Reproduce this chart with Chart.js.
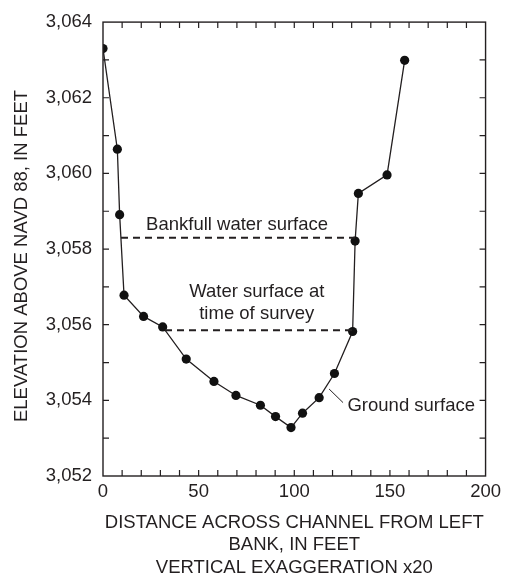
<!DOCTYPE html>
<html>
<head>
<meta charset="utf-8">
<script src="https://cdn.jsdelivr.net/npm/chart.js@4.4.1/dist/chart.umd.min.js"></script>
<style>
  html, body { margin: 0; padding: 0; background: #fff; }
</style>
</head>
<body>
<canvas id="section" width="506" height="581"></canvas>
<script>
// Channel cross section, surveyed ground points
const distance = [0, 7.5, 8.7, 11.0, 21.2, 31.2, 43.5, 58.0, 69.5, 82.3, 90.2, 98.3,
                  104.3, 113.0, 121.0, 130.5, 131.8, 133.5, 148.5, 157.7];
const elevation = [3063.30, 3060.64, 3058.91, 3056.78, 3056.22, 3055.94, 3055.09, 3054.50,
                   3054.13, 3053.87, 3053.57, 3053.28, 3053.66, 3054.07, 3054.71, 3055.82,
                   3058.21, 3059.47, 3059.96, 3062.99];

// Water surfaces (edge distances, elevation)
const bankfullX = [9.4, 131.8];
const bankfullElev = 3058.30;
const surveyX = [32.4, 130.5];
const surveyElev = 3055.85;

const xTicks = [0, 50, 100, 150, 200];
const yTicks = [3052, 3054, 3056, 3058, 3060, 3062, 3064];

const xTitle = ['DISTANCE ACROSS CHANNEL FROM LEFT', 'BANK, IN FEET', 'VERTICAL EXAGGERATION x20'];
const yTitle = 'ELEVATION ABOVE NAVD 88, IN FEET';
const bankfullLabel = 'Bankfull water surface';
const surveyLabel = ['Water surface at', 'time of survey'];
const groundLabel = 'Ground surface';

const INK = '#231f20';
const FONT = '"Liberation Sans", Arial, Helvetica, sans-serif';
const SIZE = 18.5;

// frame, inward ticks, rotated y title and callouts
const decorations = {
    id: 'decorations',
    afterDraw(chart) {
        const { ctx, chartArea: a, scales: { x, y } } = chart;
        ctx.save();
        ctx.strokeStyle = INK;
        ctx.lineWidth = 1.4;
        ctx.strokeRect(a.left, a.top, a.right - a.left, a.bottom - a.top);

        ctx.lineWidth = 1.2;
        ctx.beginPath();
        for (let v = x.min + 10; v < x.max; v += 10) {
            const px = x.getPixelForValue(v);
            ctx.moveTo(px, a.bottom); ctx.lineTo(px, a.bottom - 6);
            ctx.moveTo(px, a.top); ctx.lineTo(px, a.top + 6);
        }
        for (let v = y.min + 1; v < y.max; v += 1) {
            const py = y.getPixelForValue(v);
            ctx.moveTo(a.left, py); ctx.lineTo(a.left + 6, py);
            ctx.moveTo(a.right, py); ctx.lineTo(a.right - 6, py);
        }
        ctx.stroke();

        ctx.fillStyle = INK;
        ctx.font = SIZE + 'px ' + FONT;
        ctx.textBaseline = 'middle';

        // y axis title
        ctx.save();
        ctx.translate(21.5, 256);
        ctx.rotate(-Math.PI / 2);
        ctx.textAlign = 'center';
        ctx.fillText(yTitle, 0, 0);
        ctx.restore();

        ctx.textAlign = 'center';
        ctx.fillText(bankfullLabel, x.getPixelForValue(70.1), y.getPixelForValue(3058.65));
        ctx.fillText(surveyLabel[0], x.getPixelForValue(80.4), y.getPixelForValue(3056.88));
        ctx.fillText(surveyLabel[1], x.getPixelForValue(80.4), y.getPixelForValue(3056.28));

        ctx.textAlign = 'left';
        ctx.fillText(groundLabel, x.getPixelForValue(127.8), y.getPixelForValue(3053.85));

        // leader to the ground line
        ctx.lineWidth = 1;
        ctx.beginPath();
        ctx.moveTo(x.getPixelForValue(118.2), y.getPixelForValue(3054.30));
        ctx.lineTo(x.getPixelForValue(125.5), y.getPixelForValue(3053.94));
        ctx.stroke();
        ctx.restore();
    }
};

const waterLine = (xs, elev) => ({
    data: xs.map(d => ({ x: d, y: elev })),
    borderColor: INK,
    borderWidth: 2,
    borderDash: [7, 5],
    pointRadius: 0
});

new Chart(document.getElementById('section'), {
    type: 'line',
    data: {
        datasets: [
            waterLine(bankfullX, bankfullElev),
            waterLine(surveyX, surveyElev),
            {
                data: distance.map((d, i) => ({ x: d, y: elevation[i] })),
                borderColor: INK,
                borderWidth: 1.3,
                pointRadius: 4.6,
                pointBackgroundColor: '#111',
                pointBorderWidth: 0,
                tension: 0
            }
        ]
    },
    options: {
        responsive: false,
        animation: false,
        devicePixelRatio: 1,
        layout: { padding: { left: 0, right: 20, top: 15, bottom: 0 } },
        plugins: { legend: { display: false }, tooltip: { enabled: false } },
        scales: {
            x: {
                type: 'linear',
                min: 0,
                max: 200,
                afterBuildTicks: s => { s.ticks = xTicks.map(v => ({ value: v })); },
                afterFit: s => { s.height = 105; },
                ticks: { color: INK, padding: 5, maxRotation: 0, font: { family: FONT, size: SIZE } },
                grid: { display: false, drawTicks: false },
                border: { display: false },
                title: {
                    display: true,
                    text: xTitle,
                    color: INK,
                    font: { family: FONT, size: SIZE, lineHeight: 1.22 },
                    padding: { top: 0, bottom: 2 }
                }
            },
            y: {
                min: 3052,
                max: 3064,
                afterBuildTicks: s => { s.ticks = yTicks.map(v => ({ value: v })); },
                afterFit: s => { s.width = 103; },
                ticks: {
                    color: INK,
                    padding: 11,
                    font: { family: FONT, size: SIZE },
                    callback: v => v.toLocaleString('en-US')
                },
                grid: { display: false, drawTicks: false },
                border: { display: false }
            }
        }
    },
    plugins: [decorations]
});
</script>
</body>
</html>
